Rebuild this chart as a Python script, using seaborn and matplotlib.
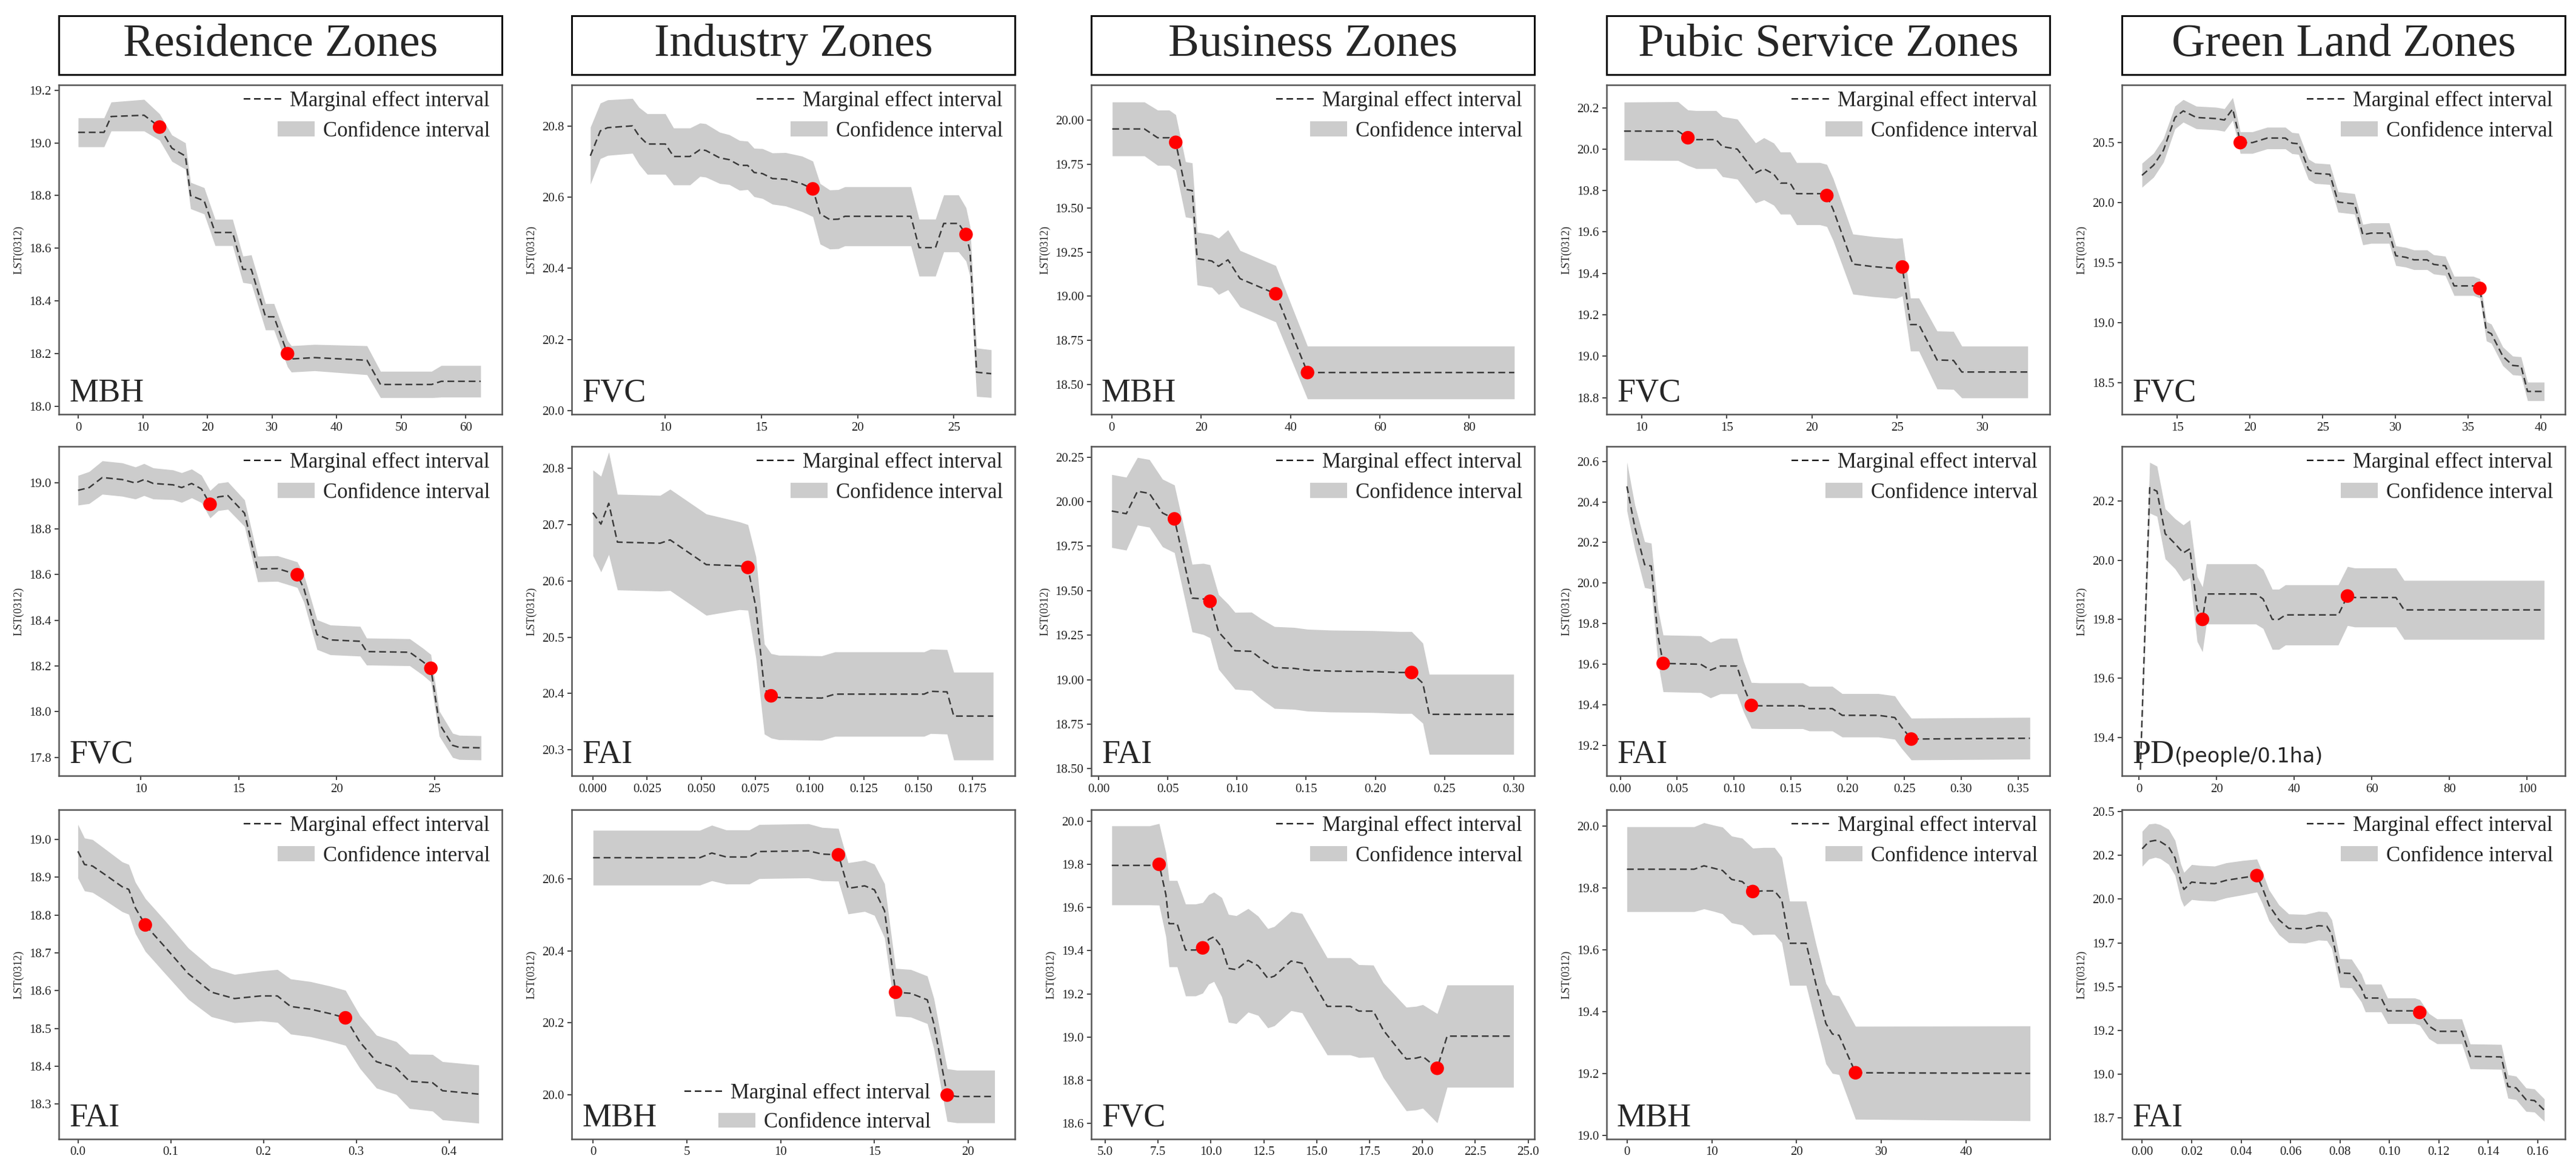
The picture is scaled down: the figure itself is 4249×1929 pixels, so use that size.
import numpy as np
import matplotlib.pyplot as plt
import seaborn as sns
from matplotlib.lines import Line2D
from matplotlib.patches import Patch, Rectangle
from matplotlib.ticker import FormatStrFormatter

# column headers
zones = ['Residence Zones', 'Industry Zones', 'Business Zones',
         'Pubic Service Zones', 'Green Land Zones']

# ---- row 1 ----
res_mbh_x = [0, 4.0, 5.1, 10.2, 12.6, 14.5, 16.6, 17.4, 19.5, 21.2, 23.9, 25.5, 26.8, 29.0, 30.3,
             32.4, 33.0, 36.6, 44.7, 46.8, 54.7, 56.2, 62.3]
res_mbh_y = [19.04, 19.04, 19.10, 19.105, 19.06, 18.98, 18.95, 18.80, 18.78, 18.66, 18.66, 18.52,
             18.52, 18.34, 18.34, 18.20, 18.18, 18.185, 18.175, 18.083, 18.083, 18.095, 18.095]
res_mbh_hw = [0.055, 0.055, 0.055, 0.06, 0.05, 0.05, 0.05, 0.05, 0.05, 0.05, 0.05, 0.05, 0.055,
              0.05, 0.05, 0.05, 0.05, 0.05, 0.055, 0.05, 0.05, 0.06, 0.06]
res_mbh_px = [12.6, 32.4]
res_mbh_py = [19.06, 18.20]

ind_fvc_x = [6.1, 6.62, 7.0, 8.29, 8.63, 9.06, 10.0, 10.43, 11.28, 11.8, 12.1, 12.83, 13.33, 13.86,
             14.28, 14.62, 15.05, 15.57, 16.25, 17.11, 17.67, 18.05, 18.55, 19.0, 19.34, 22.77,
             23.2, 24.05, 24.48, 25.25, 25.64, 25.85, 26.19, 26.95]
ind_fvc_y = [20.716, 20.786, 20.795, 20.80, 20.772, 20.749, 20.749, 20.714, 20.714, 20.733, 20.731,
             20.710, 20.705, 20.689, 20.689, 20.669, 20.666, 20.652, 20.650, 20.637, 20.623, 20.553,
             20.537, 20.538, 20.546, 20.546, 20.458, 20.458, 20.526, 20.526, 20.495, 20.447,
             20.108, 20.104]
ind_fvc_hw = [0.08, 0.078, 0.078, 0.077, 0.08, 0.085, 0.085, 0.08, 0.08, 0.075, 0.075, 0.072, 0.07,
              0.07, 0.068, 0.068, 0.07, 0.072, 0.075, 0.078, 0.078, 0.085, 0.083, 0.083, 0.083,
              0.083, 0.08, 0.08, 0.08, 0.08, 0.075, 0.07, 0.068, 0.067]
ind_fvc_px = [17.67, 25.64]
ind_fvc_py = [20.623, 20.495]

bus_mbh_x = [0.1, 7.3, 10.26, 12.85, 14.3, 16.5, 18.0, 19.1, 22.4, 23.9, 26.0, 28.7, 32.7, 36.7,
             43.8, 90.1]
bus_mbh_y = [19.95, 19.95, 19.90, 19.90, 19.874, 19.607, 19.60, 19.214, 19.20, 19.17, 19.207,
             19.10, 19.057, 19.014, 18.567, 18.567]
bus_mbh_hw = [0.153, 0.153, 0.157, 0.157, 0.157, 0.157, 0.157, 0.15, 0.15, 0.16, 0.17, 0.16,
              0.16, 0.16, 0.15, 0.15]
bus_mbh_px = [14.3, 36.7, 43.8]
bus_mbh_py = [19.874, 19.014, 18.567]

pub_fvc_x = [8.98, 12.14, 12.72, 13.21, 14.37, 14.75, 15.62, 16.69, 17.18, 17.76, 18.15, 18.72,
             19.1, 20.46, 20.87, 21.24, 22.4, 23.56, 24.92, 25.30, 25.78, 26.27, 27.34, 28.3,
             28.79, 32.66]
pub_fvc_y = [20.087, 20.087, 20.055, 20.046, 20.046, 20.012, 20.0, 19.885, 19.905, 19.879, 19.836,
             19.836, 19.785, 19.785, 19.776, 19.709, 19.445, 19.433, 19.424, 19.431, 19.153,
             19.153, 18.982, 18.98, 18.924, 18.924]
pub_fvc_hw = [0.14, 0.142, 0.134, 0.14, 0.14, 0.145, 0.145, 0.145, 0.15, 0.15, 0.15, 0.15, 0.15,
              0.15, 0.15, 0.15, 0.145, 0.145, 0.145, 0.14, 0.128, 0.128, 0.14, 0.14, 0.125, 0.125]
pub_fvc_px = [12.72, 20.87, 25.30]
pub_fvc_py = [20.055, 19.776, 19.431]

grn_fvc_x = [12.57, 13.37, 14.05, 14.84, 15.41, 16.31, 17.67, 18.24, 18.81, 19.15, 19.33, 20.17,
             21.19, 22.43, 22.89, 23.34, 24.02, 24.47, 25.49, 26.06, 27.19, 27.76, 28.33, 29.57,
             30.03, 30.71, 31.27, 32.18, 32.63, 33.43, 34.04, 35.35, 35.81, 36.26, 36.6, 37.39,
             38.07, 38.64, 39.09, 40.23]
grn_fvc_y = [20.228, 20.312, 20.437, 20.709, 20.764, 20.709, 20.70, 20.688, 20.78, 20.605, 20.5,
             20.5, 20.538, 20.538, 20.496, 20.49, 20.278, 20.245, 20.236, 20.006, 19.99, 19.734,
             19.747, 19.747, 19.559, 19.546, 19.525, 19.525, 19.487, 19.475, 19.308, 19.308,
             19.287, 18.93, 18.91, 18.722, 18.646, 18.64, 18.43, 18.43]
grn_fvc_hw = [0.1, 0.1, 0.1, 0.095, 0.094, 0.094, 0.094, 0.094, 0.094, 0.09, 0.09, 0.09, 0.09,
              0.09, 0.088, 0.088, 0.085, 0.085, 0.085, 0.085, 0.085, 0.085, 0.085, 0.085, 0.082,
              0.082, 0.082, 0.082, 0.08, 0.08, 0.08, 0.08, 0.08, 0.08, 0.08, 0.078, 0.078, 0.078,
              0.077, 0.077]
grn_fvc_px = [19.33, 35.81]
grn_fvc_py = [20.50, 19.287]

# ---- row 2 ----
res_fvc_x = [6.80, 7.37, 8.04, 9.06, 9.73, 10.17, 10.64, 11.65, 12.09, 12.60, 13.1, 13.54, 13.95,
             14.45, 15.3, 15.97, 16.98, 17.66, 17.99, 18.33, 19.0, 19.68, 21.2, 21.53, 23.73, 24.4,
             24.81, 25.24, 25.92, 26.26, 27.37]
res_fvc_y = [18.968, 18.98, 19.024, 19.015, 19.0, 19.015, 18.998, 18.992, 18.98, 18.998, 18.974,
             18.907, 18.939, 18.945, 18.868, 18.624, 18.626, 18.608, 18.599, 18.538, 18.337,
             18.314, 18.308, 18.263, 18.26, 18.219, 18.19, 17.948, 17.853, 17.844, 17.842]
res_fvc_hw = [0.065, 0.07, 0.073, 0.073, 0.07, 0.07, 0.068, 0.065, 0.065, 0.063, 0.06, 0.06, 0.06,
              0.06, 0.058, 0.056, 0.056, 0.056, 0.056, 0.06, 0.065, 0.065, 0.065, 0.059, 0.059,
              0.059, 0.06, 0.055, 0.053, 0.053, 0.053]
res_fvc_px = [13.54, 17.99, 24.81]
res_fvc_py = [18.907, 18.599, 18.19]

ind_fai_x = [0.0, 0.0037, 0.0073, 0.0113, 0.031, 0.0356, 0.0523, 0.0676, 0.0715, 0.0752, 0.0791,
             0.0822, 0.0858, 0.1056, 0.1117, 0.1528, 0.1558, 0.1634, 0.1665, 0.1847]
ind_fai_y = [20.721, 20.701, 20.738, 20.669, 20.667, 20.673, 20.629, 20.627, 20.624, 20.553,
             20.408, 20.396, 20.393, 20.392, 20.399, 20.399, 20.404, 20.403, 20.36, 20.36]
ind_fai_hw = [0.076, 0.085, 0.091, 0.085, 0.085, 0.09, 0.09, 0.078, 0.076, 0.09, 0.08, 0.075,
              0.075, 0.075, 0.075, 0.075, 0.075, 0.075, 0.078, 0.078]
ind_fai_px = [0.0715, 0.0822]
ind_fai_py = [20.624, 20.396]

bus_fai_x = [0.0095, 0.02, 0.0281, 0.0367, 0.0462, 0.0548, 0.0676, 0.0757, 0.0805, 0.0867, 0.0938,
             0.0986, 0.1105, 0.1176, 0.1271, 0.1414, 0.151, 0.1676, 0.1986, 0.2176, 0.2262,
             0.2343, 0.239, 0.30]
bus_fai_y = [19.947, 19.932, 20.058, 20.046, 19.936, 19.903, 19.458, 19.453, 19.44, 19.268, 19.207,
             19.162, 19.159, 19.116, 19.068, 19.063, 19.053, 19.048, 19.045, 19.04, 19.04, 18.98,
             18.805, 18.805]
bus_fai_hw = [0.205, 0.205, 0.19, 0.19, 0.19, 0.19, 0.19, 0.2, 0.205, 0.21, 0.216, 0.216, 0.22,
              0.225, 0.23, 0.23, 0.23, 0.23, 0.23, 0.23, 0.23, 0.225, 0.225, 0.225]
bus_fai_px = [0.0548, 0.0805, 0.2262]
bus_fai_py = [19.903, 19.44, 19.04]

pub_fai_x = [0.0058, 0.0127, 0.0214, 0.0272, 0.033, 0.0377, 0.0707, 0.0794, 0.0881, 0.1026,
             0.1084, 0.1153, 0.1229, 0.1605, 0.1663, 0.1866, 0.1953, 0.2272, 0.2416, 0.2474,
             0.2561, 0.3605]
pub_fai_y = [20.477, 20.277, 20.091, 20.084, 19.744, 19.604, 19.60, 19.571, 19.591, 19.591, 19.491,
             19.397, 19.395, 19.395, 19.381, 19.381, 19.348, 19.348, 19.337, 19.291, 19.231, 19.235]
pub_fai_hw = [0.12, 0.11, 0.113, 0.113, 0.13, 0.14, 0.14, 0.137, 0.137, 0.137, 0.125, 0.113,
              0.113, 0.113, 0.11, 0.11, 0.107, 0.107, 0.107, 0.105, 0.103, 0.103]
pub_fai_px = [0.0377, 0.1153, 0.2561]
pub_fai_py = [19.604, 19.397, 19.231]

grn_pd_x = [0.3, 2.72, 4.59, 6.71, 9.26, 11.38, 13.08, 14.95, 16.31, 17.33, 30.08, 31.95, 34.32,
            36.02, 37.72, 51.32, 53.7, 55.57, 66.19, 68.31, 104.4]
grn_pd_y = [19.29, 20.246, 20.234, 20.09, 20.056, 20.025, 20.039, 19.835, 19.80, 19.886, 19.886,
            19.869, 19.80, 19.80, 19.815, 19.815, 19.879, 19.874, 19.874, 19.832, 19.832]
grn_pd_hw = [0.0, 0.086, 0.085, 0.085, 0.085, 0.095, 0.098, 0.11, 0.11, 0.102, 0.102, 0.1, 0.102,
             0.102, 0.102, 0.102, 0.1, 0.1, 0.1, 0.1, 0.1]
grn_pd_px = [16.31, 53.7]
grn_pd_py = [19.80, 19.879]

# ---- row 3 ----
res_fai_x = [0, 0.0071, 0.0157, 0.0299, 0.0477, 0.0548, 0.0619, 0.0726, 0.094, 0.1189, 0.1438,
             0.1687, 0.1972, 0.215, 0.2292, 0.2505, 0.2719, 0.2883, 0.3039, 0.3217, 0.3431,
             0.3573, 0.3822, 0.3929, 0.432]
res_fai_y = [18.969, 18.934, 18.93, 18.906, 18.875, 18.868, 18.819, 18.774, 18.715, 18.645, 18.596,
             18.579, 18.586, 18.586, 18.558, 18.551, 18.539, 18.528, 18.464, 18.412, 18.395, 18.36,
             18.356, 18.335, 18.326]
res_fai_hw = [0.071, 0.07, 0.07, 0.068, 0.066, 0.066, 0.068, 0.07, 0.07, 0.068, 0.065, 0.064,
              0.066, 0.07, 0.073, 0.073, 0.073, 0.073, 0.07, 0.07, 0.07, 0.072, 0.075, 0.077, 0.077]
res_fai_px = [0.0726, 0.2883]
res_fai_py = [18.774, 18.528]

ind_mbh_x = [0, 5.69, 6.33, 7.1, 8.33, 8.86, 11.49, 12.2, 13.08, 13.6, 14.48, 15.0, 15.54, 16.13,
             16.94, 17.82, 18.17, 18.88, 19.4, 21.41]
ind_mbh_y = [20.658, 20.658, 20.671, 20.66, 20.66, 20.675, 20.677, 20.668, 20.666, 20.573, 20.58,
             20.569, 20.511, 20.285, 20.282, 20.264, 20.198, 20.0, 19.996, 19.996]
ind_mbh_hw = [0.076, 0.076, 0.077, 0.075, 0.075, 0.075, 0.075, 0.074, 0.073, 0.071, 0.071, 0.071,
              0.075, 0.066, 0.066, 0.066, 0.07, 0.073, 0.073, 0.073]
ind_mbh_px = [13.08, 16.13, 18.88]
ind_mbh_py = [20.666, 20.285, 20.0]

bus_fvc_x = [5.31, 7.09, 7.55, 7.87, 8.02, 8.4, 8.8, 9.27, 9.61, 9.89, 10.14, 10.51, 10.83, 11.2,
             11.76, 12.23, 12.69, 13.0, 13.79, 14.31, 14.88, 15.5, 16.59, 16.99, 17.68, 18.15,
             18.93, 19.24, 19.7, 20.02, 20.7, 21.17, 24.31]
bus_fvc_y = [19.795, 19.795, 19.80, 19.659, 19.525, 19.525, 19.403, 19.403, 19.413, 19.452, 19.464,
             19.416, 19.318, 19.312, 19.355, 19.33, 19.272, 19.282, 19.352, 19.342, 19.245, 19.142,
             19.142, 19.12, 19.12, 19.032, 18.935, 18.898, 18.902, 18.91, 18.855, 19.004, 19.004]
bus_fvc_hw = [0.183, 0.183, 0.189, 0.195, 0.2, 0.2, 0.213, 0.213, 0.21, 0.207, 0.207, 0.23, 0.25,
              0.25, 0.24, 0.23, 0.23, 0.23, 0.23, 0.23, 0.228, 0.225, 0.225, 0.215, 0.213, 0.22,
              0.235, 0.24, 0.24, 0.24, 0.253, 0.237, 0.237]
bus_fvc_px = [7.55, 9.61, 20.7]
bus_fvc_py = [19.80, 19.413, 18.855]

pub_mbh_x = [0, 7.92, 9.08, 10.25, 11.26, 12.34, 13.59, 14.83, 16.07, 17.39, 18.25, 19.18, 21.12,
             22.28, 23.45, 24.22, 25.0, 26.94, 47.52]
pub_mbh_y = [19.86, 19.86, 19.871, 19.863, 19.856, 19.827, 19.82, 19.788, 19.79, 19.79, 19.761,
             19.621, 19.621, 19.489, 19.362, 19.328, 19.324, 19.203, 19.201]
pub_mbh_hw = [0.137, 0.137, 0.139, 0.139, 0.14, 0.14, 0.14, 0.14, 0.14, 0.14, 0.138, 0.136, 0.136,
              0.13, 0.13, 0.127, 0.127, 0.15, 0.153]
pub_mbh_px = [14.83, 26.94]
pub_mbh_py = [19.788, 19.203]

grn_fai_x = [0, 0.0027, 0.0053, 0.0073, 0.0107, 0.0133, 0.0156, 0.0169, 0.02, 0.0233, 0.0293,
             0.034, 0.0407, 0.0464, 0.0487, 0.0513, 0.0553, 0.0593, 0.066, 0.0713, 0.0747, 0.0767,
             0.0787, 0.08, 0.0847, 0.0887, 0.0903, 0.0967, 0.0993, 0.1103, 0.1123, 0.116, 0.1193,
             0.1293, 0.1327, 0.1453, 0.148, 0.1513, 0.1553, 0.1587, 0.1627]
grn_fai_y = [20.287, 20.328, 20.335, 20.328, 20.298, 20.235, 20.10, 20.055, 20.097, 20.092, 20.088,
             20.107, 20.122, 20.134, 20.062, 19.965, 19.882, 19.833, 19.83, 19.848, 19.845, 19.80,
             19.665, 19.578, 19.575, 19.492, 19.435, 19.435, 19.362, 19.362, 19.353, 19.275,
             19.245, 19.245, 19.102, 19.099, 18.93, 18.922, 18.855, 18.85, 18.795]
grn_fai_hw = [0.1, 0.1, 0.097, 0.097, 0.1, 0.1, 0.1, 0.097, 0.1, 0.1, 0.1, 0.1, 0.098, 0.094, 0.09,
              0.088, 0.085, 0.082, 0.082, 0.082, 0.082, 0.082, 0.082, 0.082, 0.082, 0.08, 0.079,
              0.079, 0.073, 0.073, 0.073, 0.072, 0.071, 0.071, 0.071, 0.071, 0.067, 0.067, 0.067,
              0.066, 0.064]
grn_fai_px = [0.0464, 0.1123]
grn_fai_py = [20.134, 19.353]

# tick positions / labels
grn_fai_yticks = [18.75, 19.0, 19.25, 19.5, 19.75, 20.0, 20.25, 20.5]
grn_fai_ylabels = ['18.7', '19.0', '19.2', '19.5', '19.7', '20.0', '20.2', '20.5']

panels = [
    dict(r=0, c=0, var='MBH', x=res_mbh_x, y=res_mbh_y, hw=res_mbh_hw, px=res_mbh_px, py=res_mbh_py,
         xlim=(-3.0, 65.6), ylim=(17.97, 19.22), xt=[0, 10, 20, 30, 40, 50, 60], xf='%d',
         yt=[18.0, 18.2, 18.4, 18.6, 18.8, 19.0, 19.2], yf='%.1f'),
    dict(r=0, c=1, var='FVC', x=ind_fvc_x, y=ind_fvc_y, hw=ind_fvc_hw, px=ind_fvc_px, py=ind_fvc_py,
         xlim=(5.13, 28.18), ylim=(19.99, 20.915), xt=[10, 15, 20, 25], xf='%d',
         yt=[20.0, 20.2, 20.4, 20.6, 20.8], yf='%.1f'),
    dict(r=0, c=2, var='MBH', x=bus_mbh_x, y=bus_mbh_y, hw=bus_mbh_hw, px=bus_mbh_px, py=bus_mbh_py,
         xlim=(-4.6, 94.6), ylim=(18.33, 20.20), xt=[0, 20, 40, 60, 80], xf='%d',
         yt=[18.5, 18.75, 19.0, 19.25, 19.5, 19.75, 20.0], yf='%.2f'),
    dict(r=0, c=3, var='FVC', x=pub_fvc_x, y=pub_fvc_y, hw=pub_fvc_hw, px=pub_fvc_px, py=pub_fvc_py,
         xlim=(7.95, 33.95), ylim=(18.72, 20.31), xt=[10, 15, 20, 25, 30], xf='%d',
         yt=[18.8, 19.0, 19.2, 19.4, 19.6, 19.8, 20.0, 20.2], yf='%.1f'),
    dict(r=0, c=4, var='FVC', x=grn_fvc_x, y=grn_fvc_y, hw=grn_fvc_hw, px=grn_fvc_px, py=grn_fvc_py,
         xlim=(11.19, 41.67), ylim=(18.24, 20.98), xt=[15, 20, 25, 30, 35, 40], xf='%d',
         yt=[18.5, 19.0, 19.5, 20.0, 20.5], yf='%.1f'),
    dict(r=1, c=0, var='FVC', x=res_fvc_x, y=res_fvc_y, hw=res_fvc_hw, px=res_fvc_px, py=res_fvc_py,
         xlim=(5.82, 28.44), ylim=(17.72, 19.16), xt=[10, 15, 20, 25], xf='%d',
         yt=[17.8, 18.0, 18.2, 18.4, 18.6, 18.8, 19.0], yf='%.1f'),
    dict(r=1, c=1, var='FAI', x=ind_fai_x, y=ind_fai_y, hw=ind_fai_hw, px=ind_fai_px, py=ind_fai_py,
         xlim=(-0.0098, 0.1947), ylim=(20.254, 20.839),
         xt=[0, 0.025, 0.05, 0.075, 0.1, 0.125, 0.15, 0.175], xf='%.3f',
         yt=[20.3, 20.4, 20.5, 20.6, 20.7, 20.8], yf='%.1f'),
    dict(r=1, c=2, var='FAI', x=bus_fai_x, y=bus_fai_y, hw=bus_fai_hw, px=bus_fai_px, py=bus_fai_py,
         xlim=(-0.0053, 0.315), ylim=(18.46, 20.31),
         xt=[0, 0.05, 0.1, 0.15, 0.2, 0.25, 0.3], xf='%.2f',
         yt=[18.5, 18.75, 19.0, 19.25, 19.5, 19.75, 20.0, 20.25], yf='%.2f'),
    dict(r=1, c=3, var='FAI', x=pub_fai_x, y=pub_fai_y, hw=pub_fai_hw, px=pub_fai_px, py=pub_fai_py,
         xlim=(-0.0121, 0.378), ylim=(19.05, 20.674),
         xt=[0, 0.05, 0.1, 0.15, 0.2, 0.25, 0.3, 0.35], xf='%.2f',
         yt=[19.2, 19.4, 19.6, 19.8, 20.0, 20.2, 20.4, 20.6], yf='%.1f'),
    dict(r=1, c=4, var='PD', x=grn_pd_x, y=grn_pd_y, hw=grn_pd_hw, px=grn_pd_px, py=grn_pd_py,
         xlim=(-4.45, 109.8), ylim=(19.27, 20.386), xt=[0, 20, 40, 60, 80, 100], xf='%d',
         yt=[19.4, 19.6, 19.8, 20.0, 20.2], yf='%.1f'),
    dict(r=2, c=0, var='FAI', x=res_fai_x, y=res_fai_y, hw=res_fai_hw, px=res_fai_px, py=res_fai_py,
         xlim=(-0.0206, 0.457), ylim=(18.207, 19.079), xt=[0, 0.1, 0.2, 0.3, 0.4], xf='%.1f',
         yt=[18.3, 18.4, 18.5, 18.6, 18.7, 18.8, 18.9, 19.0], yf='%.1f'),
    dict(r=2, c=1, var='MBH', x=ind_mbh_x, y=ind_mbh_y, hw=ind_mbh_hw, px=ind_mbh_px, py=ind_mbh_py,
         xlim=(-1.14, 22.49), ylim=(19.878, 20.791), xt=[0, 5, 10, 15, 20], xf='%d',
         yt=[20.0, 20.2, 20.4, 20.6], yf='%.1f', leg='bottom'),
    dict(r=2, c=2, var='FVC', x=bus_fvc_x, y=bus_fvc_y, hw=bus_fvc_hw, px=bus_fvc_px, py=bus_fvc_py,
         xlim=(4.34, 25.3), ylim=(18.527, 20.053),
         xt=[5.0, 7.5, 10.0, 12.5, 15.0, 17.5, 20.0, 22.5, 25.0], xf='%.1f',
         yt=[18.6, 18.8, 19.0, 19.2, 19.4, 19.6, 19.8, 20.0], yf='%.1f'),
    dict(r=2, c=3, var='MBH', x=pub_mbh_x, y=pub_mbh_y, hw=pub_mbh_hw, px=pub_mbh_px, py=pub_mbh_py,
         xlim=(-2.4, 49.84), ylim=(18.989, 20.052), xt=[0, 10, 20, 30, 40], xf='%d',
         yt=[19.0, 19.2, 19.4, 19.6, 19.8, 20.0], yf='%.1f'),
    dict(r=2, c=4, var='FAI', x=grn_fai_x, y=grn_fai_y, hw=grn_fai_hw, px=grn_fai_px, py=grn_fai_py,
         xlim=(-0.0082, 0.1711), ylim=(18.63, 20.51),
         xt=[0, 0.02, 0.04, 0.06, 0.08, 0.1, 0.12, 0.14, 0.16], xf='%.2f',
         yt=grn_fai_yticks, ylab=grn_fai_ylabels),
]

sns.set_style('ticks')
plt.rcParams['font.family'] = ['Liberation Serif', 'DejaVu Serif']

W, H = 4249, 1929
fig = plt.figure(figsize=(W / 100, H / 100), dpi=100)

lefts = [97, 943, 1800, 2650, 3500]
tops = [140, 736, 1335]
aw, ah = 731, 543

band_col = '#cccccc'
line_col = '#3a3a3a'

# headers in boxes
for c, name in enumerate(zones):
    l = lefts[c]
    fig.add_artist(Rectangle((l / W, 1 - 123 / H), aw / W, 97 / H, transform=fig.transFigure,
                             fill=False, lw=2.2, ec='#111111'))
    fig.text((l + aw / 2) / W, 1 - 92 / H, name, ha='center', va='baseline', fontsize=55)


def add_legend(ax, where):
    line_h = Line2D([], [], color='#111111', lw=1.7, linestyle=(0, (4.6, 2.6)))
    patch_h = Patch(facecolor=band_col, edgecolor='none')
    if where == 'bottom':
        xr, y1, y2 = 0.81, 0.169, 0.081
    else:
        xr, y1, y2 = 1 - 20 / aw, 0.982, 0.89
    kw = dict(loc='upper right', frameon=False, fontsize=25, borderpad=0, borderaxespad=0)
    leg1 = ax.legend([line_h], ['Marginal effect interval'], bbox_to_anchor=(xr, y1),
                     handlelength=1.9, handletextpad=0.3, **kw)
    ax.add_artist(leg1)
    ax.legend([patch_h], ['Confidence interval'], bbox_to_anchor=(xr, y2),
              handlelength=1.75, handletextpad=0.4, **kw)


for p in panels:
    l, t = lefts[p['c']], tops[p['r']]
    ax = fig.add_axes([l / W, 1 - (t + ah) / H, aw / W, ah / H])
    x = np.array(p['x'])
    y = np.array(p['y'])
    hw = np.array(p['hw'])

    ax.fill_between(x, y - hw, y + hw, color=band_col, lw=0, zorder=1)
    sns.lineplot(x=x, y=y, ax=ax, color=line_col, lw=1.8, linestyle=(0, (4.5, 2.5)),
                 estimator=None, sort=False, zorder=3)
    sns.scatterplot(x=p['px'], y=p['py'], ax=ax, color='red', s=260, edgecolor='none',
                    zorder=5, legend=False)

    ax.set_xlim(p['xlim'])
    ax.set_ylim(p['ylim'])
    ax.set_xticks(p['xt'])
    ax.xaxis.set_major_formatter(FormatStrFormatter(p['xf']))
    ax.set_yticks(p['yt'])
    if 'ylab' in p:
        ax.set_yticklabels(p['ylab'])
    else:
        ax.yaxis.set_major_formatter(FormatStrFormatter(p['yf']))
    ax.tick_params(direction='out', length=5, width=1.2, labelsize=15, colors='#222222', pad=4)
    for s in ax.spines.values():
        s.set_color('#555555')
        s.set_linewidth(1.8)
    ax.set_xlabel('')
    ax.set_ylabel('LST(0312)', fontsize=13, labelpad=6)

    vt = ax.text(17 / aw, 21 / ah, p['var'], transform=ax.transAxes, fontsize=39,
                 ha='left', va='baseline', zorder=6)
    if p['var'] == 'PD':
        ax.annotate('(people/0.1ha)', xy=(1, 0.12), xycoords=vt, ha='left', va='bottom',
                    fontsize=24, family=['DejaVu Sans'], zorder=6)

    add_legend(ax, p.get('leg', 'top'))

fig.savefig('out.png', dpi=100)
